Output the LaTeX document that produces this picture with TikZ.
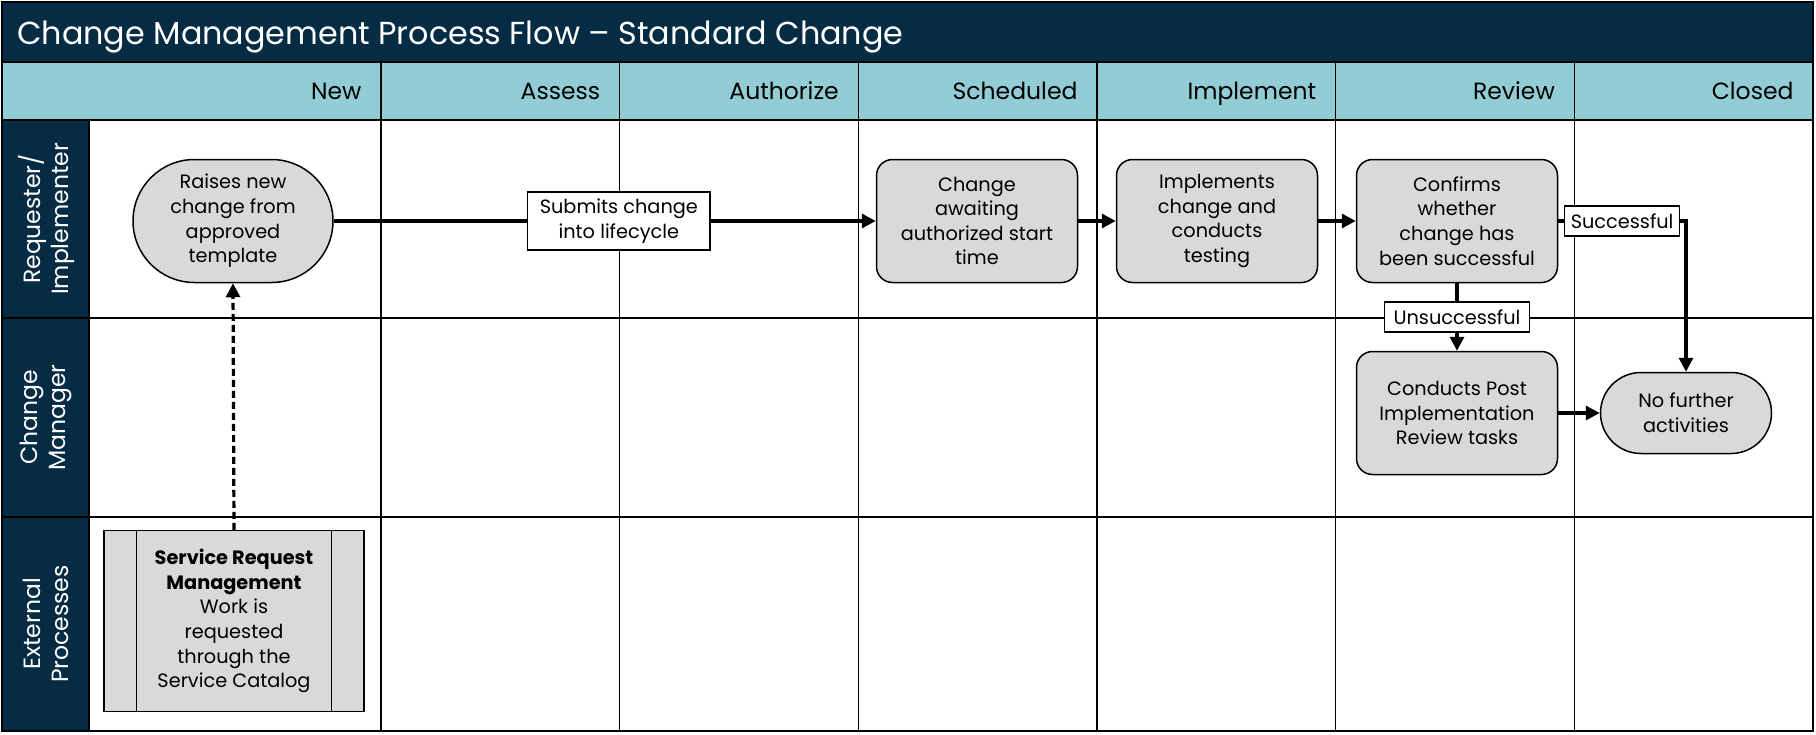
\documentclass[tikz,border=0pt]{standalone}
\usepackage{fontspec}
\setmainfont{Poppins}
\usetikzlibrary{arrows.meta,shapes.misc}
\definecolor{navy}{HTML}{062C43}
\definecolor{hdrteal}{HTML}{92CDD6}
\definecolor{boxgray}{HTML}{D9D9D9}
\newcommand\titlefnt{\fontsize{31.8}{36}\selectfont}
\newcommand\hdrfnt{\fontsize{23.5}{28}\selectfont}
\newcommand\nodefnt{\fontsize{19.3}{24.6}\selectfont}
\begin{document}
\begin{tikzpicture}[x=1pt,y=-1pt,
  grid/.style={line width=1.5pt, draw=black},
  proc/.style={draw, line width=1.5pt, fill=boxgray, rounded corners=16pt,
    minimum width=201pt, minimum height=123pt, align=center, inner sep=0pt, font=\nodefnt},
  term/.style={draw, line width=1.5pt, fill=boxgray, rounded rectangle,
    align=center, inner sep=0pt, font=\nodefnt},
  lbl/.style={draw, line width=1.3pt, fill=white, align=center, font=\nodefnt,
    inner xsep=6pt, inner ysep=7.5pt},
  flow/.style={line width=3.2pt, -{Triangle[length=14pt,width=14pt]}},
  hdr/.style={anchor=base east, font=\hdrfnt},
  lane/.style={rotate=90, text=white, align=center, font=\hdrfnt},
]
\useasboundingbox (0,0) rectangle (1816,734);

% title bar
\fill[navy] (2,2) rectangle (1813,62);
\node[anchor=base west, text=white, font=\titlefnt, inner sep=0pt] (title) at (17,44)
  {Change Management Process Flow -- Standard Change};

% phase header
\fill[hdrteal] (2,62) rectangle (1813,120);
% lane label column
\fill[navy] (2,120) rectangle (89,731);

% grid lines
\draw[grid] (2,2) rectangle (1813,731);
\draw[grid] (2,62) -- (1813,62);
\draw[grid] (2,120) -- (1813,120);
\draw[grid] (2,318) -- (1813,318);
\draw[grid] (2,517) -- (1813,517);
\draw[grid] (89,120) -- (89,731);
\foreach \x in {381,619.7,858.3,1097,1335.7,1574.3}
  \draw[grid] (\x,62) -- (\x,731);

% phase names
\node[hdr] (hNew)  at (365,99)    {New};
\node[hdr] (hAss)  at (603.7,99)  {Assess};
\node[hdr] (hAut)  at (842.3,99)  {Authorize};
\node[hdr] (hSch)  at (1081,99)   {Scheduled};
\node[hdr] (hImp)  at (1319.7,99) {Implement};
\node[hdr] (hRev)  at (1558.3,99) {Review};
\node[hdr] (hClo)  at (1797,99)   {Closed};

% lane names
\node[lane] (lReq) at (46,219)   {Requester/\\Implementer};
\node[lane] (lMgr) at (46,417.5) {Change\\Manager};
\node[lane] (lExt) at (46,624)   {External\\Processes};

% activities
\node[term, minimum width=200pt, minimum height=123pt] (raise) at (233,221)
  {Raises new\\change from\\approved\\template};
\node[proc] (await) at (977,221) {Change\\awaiting\\authorized start\\time};
\node[proc] (impl) at (1217,221) {Implements\\change and\\conducts\\testing};
\node[proc] (conf) at (1457,221) {Confirms\\whether\\change has\\been successful};
\node[proc] (pir) at (1457,413) {Conducts Post\\Implementation\\Review tasks};
\node[term, minimum width=171pt, minimum height=81pt] (done) at (1686,413)
  {No further\\activities};

% external process (predefined process box)
\node[draw, line width=1.5pt, fill=boxgray, minimum width=260pt, minimum height=181pt,
  align=center, inner sep=0pt, font=\nodefnt] (srm) at (234,621)
  {\textbf{Service Request}\\\textbf{Management}\\Work is\\requested\\through the\\Service Catalog};
\draw[line width=1.3pt] ([xshift=33pt]srm.north west) -- ([xshift=33pt]srm.south west);
\draw[line width=1.3pt] ([xshift=-33pt]srm.north east) -- ([xshift=-33pt]srm.south east);

% connectors
\draw[flow] (raise.east) -- node[lbl, pos=0.526, inner xsep=12pt, inner ysep=7pt] (submit)
  {Submits change\\into lifecycle} (await.west);
\draw[flow] (await) -- (impl);
\draw[flow] (impl) -- (conf);
\draw[flow] (conf.east) -- node[lbl] (succ) {Successful} (conf.east -| done.north) -- (done.north);
\draw[flow] (conf.south) -- node[lbl, inner xsep=9pt] (unsucc) {Unsuccessful} (pir.north);
\draw[flow] (pir) -- (done);
\draw[flow, dash pattern=on 7pt off 4pt] (srm.north) -- (raise.south);
\end{tikzpicture}
\end{document}
